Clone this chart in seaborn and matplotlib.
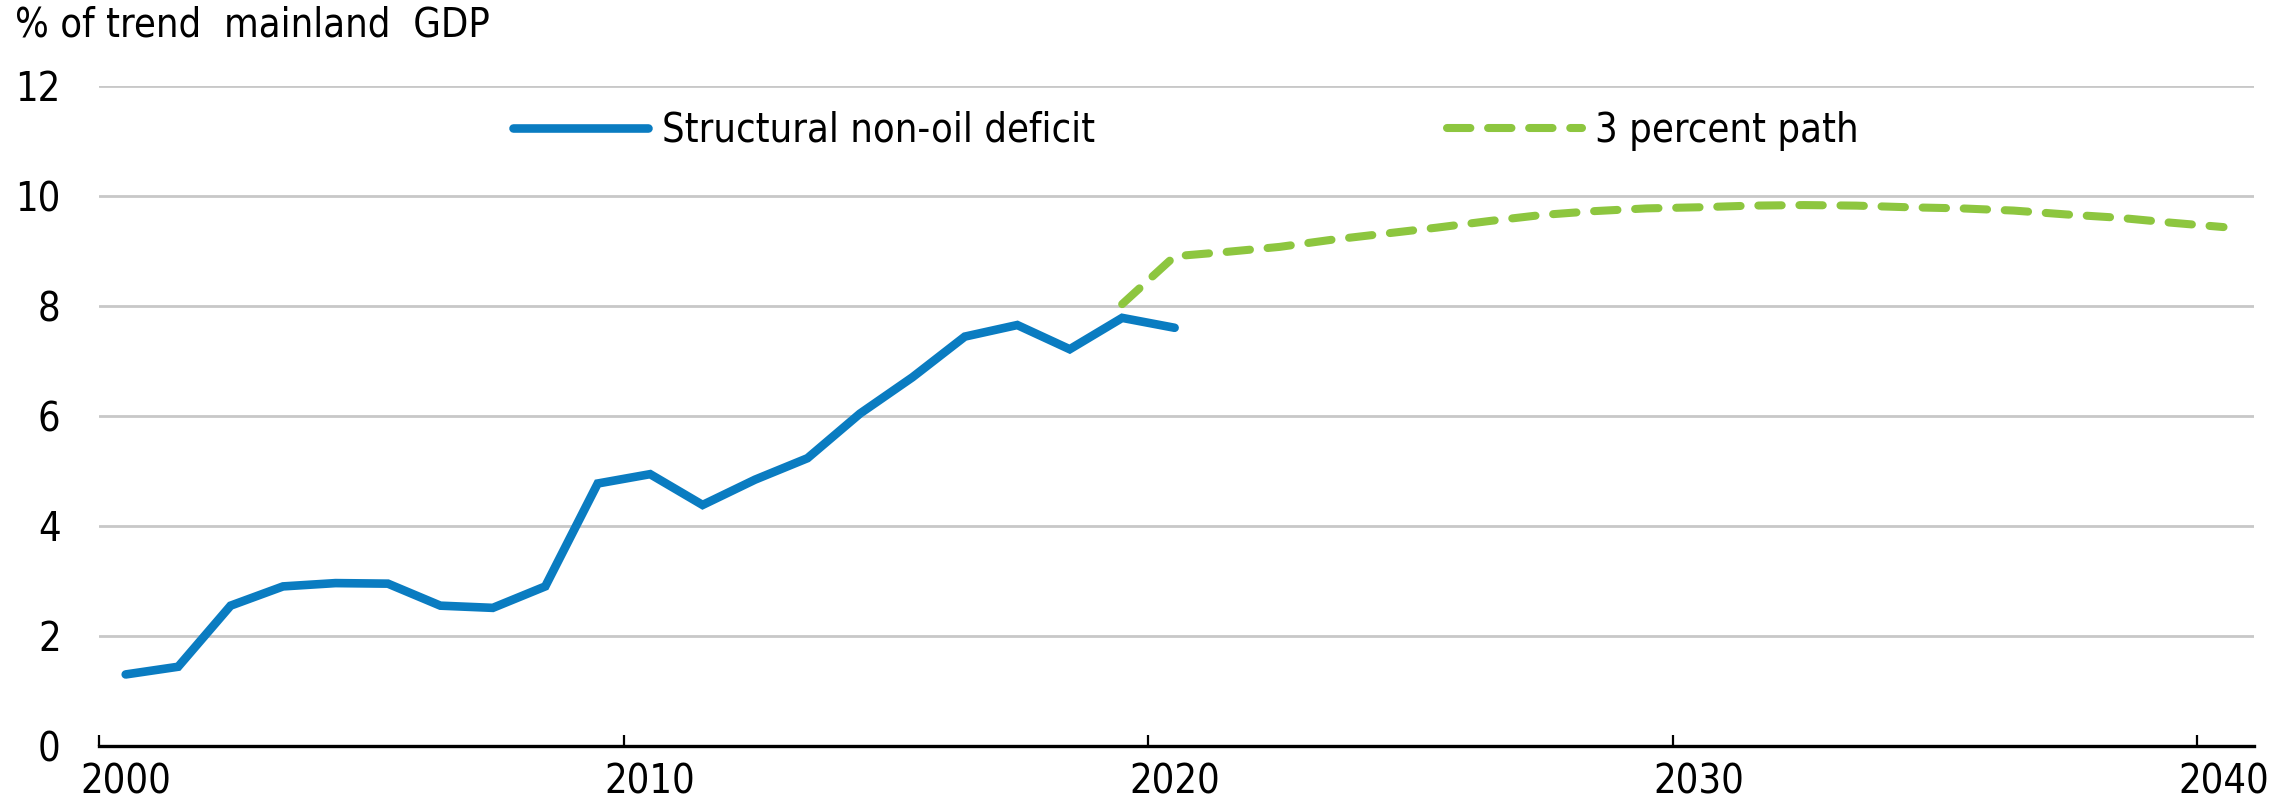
import numpy as np
import pandas as pd
import seaborn as sns
import matplotlib.pyplot as plt
from matplotlib import font_manager
from matplotlib.ticker import FixedLocator

# Structural non-oil deficit, % of trend mainland GDP
years_hist = np.arange(2000, 2021)
deficit = [1.30, 1.44, 2.55, 2.90, 2.96, 2.95, 2.55, 2.51, 2.90, 4.77, 4.94,
           4.38, 4.84, 5.23, 6.04, 6.70, 7.44, 7.65, 7.21, 7.78, 7.60]

# 3 percent path
years_path = np.arange(2019, 2041)
path = [8.03, 8.90, 8.98, 9.07, 9.20, 9.31, 9.42, 9.54, 9.65, 9.72, 9.77, 9.79,
        9.82, 9.83, 9.82, 9.79, 9.77, 9.73, 9.66, 9.60, 9.51, 9.43]

x_ticks = [2000, 2010, 2020, 2030, 2040]
y_ticks = [0, 2, 4, 6, 8, 10, 12]

blue = "#0A7CC1"
green = "#8DC63F"

sns.set_style("white")
names = {f.name for f in font_manager.fontManager.ttflist}
if "Liberation Sans Narrow" in names:
    plt.rcParams["font.family"] = ["Liberation Sans Narrow", "DejaVu Sans"]
else:
    # DejaVu Sans Condensed stands in for Arial Narrow
    plt.rcParams["font.family"] = ["DejaVu Sans"]
    plt.rcParams["font.stretch"] = "condensed"
plt.rcParams["font.size"] = 28.5
plt.rcParams["text.color"] = "black"
plt.rcParams["xtick.color"] = "black"
plt.rcParams["ytick.color"] = "black"

# Excel-style category axis: values sit in the middle of each year
hist = pd.DataFrame({"x": years_hist + 0.5, "y": deficit})
proj = pd.DataFrame({"x": years_path + 0.5, "y": path})

fig = plt.figure(figsize=(22.92, 8.09), dpi=100)
ax = fig.add_axes([0.0434, 0.0779, 0.9400, 0.8162])

sns.lineplot(data=hist, x="x", y="y", ax=ax, color=blue, linewidth=6.2,
             label="Structural non-oil deficit")
sns.lineplot(data=proj, x="x", y="y", ax=ax, color=green, linewidth=5.8,
             linestyle=(0, (2.9, 2.2)), label="3 percent path")
for ln in ax.get_lines():
    ln.set_dash_capstyle("round")
    ln.set_solid_capstyle("round")
    ln.set_solid_joinstyle("miter")

ax.set_xlim(2000, 2041.08)
ax.set_ylim(0, 12)
ax.set_xlabel("")
ax.set_ylabel("")

# labels centred on years, tick marks on year boundaries
ax.xaxis.set_major_locator(FixedLocator([y + 0.5 for y in x_ticks]))
ax.set_xticklabels([str(y) for y in x_ticks])
ax.xaxis.set_minor_locator(FixedLocator(x_ticks))
ax.tick_params(axis="x", which="major", length=0, pad=12, labelsize=28.5)
ax.tick_params(axis="x", which="minor", direction="in", length=8, width=1.6,
               color="black", bottom=True)
ax.set_yticks(y_ticks)
ax.tick_params(axis="y", length=0, pad=28, labelsize=28.5)

ax.yaxis.grid(True, color="#C8C8C8", linewidth=2.0)
ax.set_axisbelow(True)
for side in ["top", "right", "left"]:
    ax.spines[side].set_visible(False)
ax.spines["bottom"].set_color("black")
ax.spines["bottom"].set_linewidth(2.4)
ax.spines["bottom"].set_zorder(5)

ax.legend(loc="center left", bbox_to_anchor=(0.192, 0.932), ncol=2,
          frameon=False, handlelength=3.4, handletextpad=0.35,
          columnspacing=8.9, borderpad=0, borderaxespad=0, fontsize=28.5)

fig.text(0.0065, 0.969, "% of trend  mainland  GDP", fontsize=28.5,
         va="center", ha="left")

fig.savefig("out.png", dpi=100)
